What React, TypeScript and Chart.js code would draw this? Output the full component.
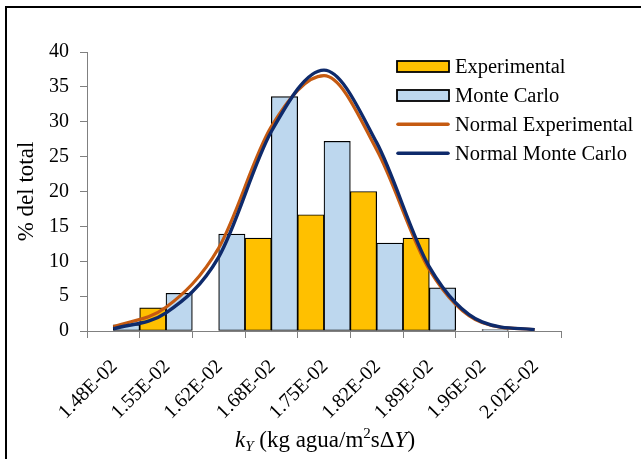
import React, { useEffect, useRef } from 'react';
import { Chart, registerables } from 'chart.js';

Chart.register(...registerables);

const categories = ['1.48E-02', '1.55E-02', '1.62E-02', '1.68E-02', '1.75E-02', '1.82E-02', '1.89E-02', '1.96E-02', '2.02E-02'];
const experimental = [0, 3.33, 0, 13.33, 16.67, 20.0, 13.33, 0, 0];
const monteCarlo = [0.9, 5.4, 13.9, 33.6, 27.2, 12.6, 6.2, 0.2, 0];
const normalExperimental = [0.6, 3.4, 11.9, 29.3, 36.6, 26.0, 8.8, 1.2, 0.2];
const normalMonteCarlo = [0.3, 2.6, 10.6, 28.6, 37.4, 27.0, 9.2, 1.3, 0.2];
const yMin = 0;
const yMax = 40;
const yStep = 5;
const legendLabels = ['Experimental', 'Monte Carlo', 'Normal Experimental', 'Normal Monte Carlo'];
const yTitle = '% del total';

const FONT = '"Liberation Serif", "Times New Roman", serif';
const C_EXP = '#FFC000';
const C_MC = '#BDD7EE';
const C_NEXP = '#C55A11';
const C_NMC = '#0E2A6B';
const AXIS = '#808080';

const decorPlugin = {
  id: 'decor',
  afterDraw(chart: any) {
    const ctx = chart.ctx as CanvasRenderingContext2D;
    const area = chart.chartArea;
    ctx.save();
    // outer frame
    ctx.strokeStyle = '#000';
    ctx.lineWidth = 2;
    ctx.strokeRect(6, 7, 800, 600);

    // legend
    const lx0 = 397, lx1 = 449, tx = 455;
    const rows = [66.5, 95.5, 124.3, 153.3];
    ctx.font = `20.5px ${FONT}`;
    ctx.textBaseline = 'alphabetic';
    ctx.textAlign = 'left';
    rows.forEach((cy, i) => {
      if (i < 2) {
        ctx.fillStyle = i === 0 ? C_EXP : C_MC;
        ctx.fillRect(lx0, cy - 5.5, lx1 - lx0, 11);
        ctx.strokeStyle = '#000';
        ctx.lineWidth = 1.8;
        ctx.strokeRect(lx0, cy - 5.5, lx1 - lx0, 11);
      } else {
        ctx.strokeStyle = i === 2 ? C_NEXP : C_NMC;
        ctx.lineWidth = 3.5;
        ctx.lineCap = 'round';
        ctx.beginPath();
        ctx.moveTo(lx0 + 1, cy);
        ctx.lineTo(lx1 - 1, cy);
        ctx.stroke();
      }
      ctx.fillStyle = '#000';
      ctx.fillText(legendLabels[i], tx, cy + 6.3);
    });

    // y title
    ctx.save();
    ctx.translate(33, (area.top + area.bottom) / 2);
    ctx.rotate(-Math.PI / 2);
    ctx.font = `23px ${FONT}`;
    ctx.textAlign = 'center';
    ctx.textBaseline = 'alphabetic';
    ctx.fillStyle = '#000';
    ctx.fillText(yTitle, 0, 0);
    ctx.restore();

    // x title with sub/superscripts
    const parts: [string, string, number][] = [
      ['k', `italic 23px ${FONT}`, 0],
      ['Y', `italic 15px ${FONT}`, 4],
      [' (kg agua/m', `23px ${FONT}`, 0],
      ['2', `15px ${FONT}`, -8.5],
      ['s\u0394', `23px ${FONT}`, 0],
      ['Y', `italic 23px ${FONT}`, 0],
      [')', `23px ${FONT}`, 0],
    ];
    let total = 0;
    const widths = parts.map(([t, f]) => {
      ctx.font = f;
      const w = ctx.measureText(t).width;
      total += w;
      return w;
    });
    let x = (area.left + area.right) / 2 - total / 2 + 1;
    const base = 446.5;
    ctx.textAlign = 'left';
    ctx.fillStyle = '#000';
    parts.forEach(([t, f, dy], i) => {
      ctx.font = f;
      ctx.fillText(t, x, base + dy);
      x += widths[i];
    });
    ctx.restore();
  },
};

export default function App() {
  const ref = useRef<HTMLCanvasElement | null>(null);
  useEffect(() => {
    if (!ref.current) return;
    const lineCommon = {
      type: 'line',
      pointRadius: 0,
      fill: false,
      cubicInterpolationMode: 'monotone',
    };
    const chart = new Chart(ref.current, {
      type: 'bar',
      data: {
        labels: categories,
        datasets: [
          {
            type: 'bar',
            label: legendLabels[0],
            data: experimental,
            backgroundColor: C_EXP,
            borderColor: '#000',
            borderWidth: 1.2,
            borderSkipped: false,
            categoryPercentage: 1,
            barPercentage: 1,
            order: 3,
          },
          {
            type: 'bar',
            label: legendLabels[1],
            data: monteCarlo,
            backgroundColor: C_MC,
            borderColor: '#000',
            borderWidth: 1.2,
            borderSkipped: false,
            categoryPercentage: 1,
            barPercentage: 1,
            order: 3,
          },
          {
            ...lineCommon,
            label: legendLabels[2],
            data: normalExperimental,
            borderColor: C_NEXP,
            borderWidth: 3.2,
            order: 1,
          },
          {
            ...lineCommon,
            label: legendLabels[3],
            data: normalMonteCarlo,
            borderColor: C_NMC,
            borderWidth: 3.4,
            order: 0,
          },
        ] as any,
      },
      options: {
        animation: false,
        responsive: false,
        devicePixelRatio: 1,
        layout: { padding: { left: 0, top: 52, right: 80, bottom: 0 } },
        plugins: {
          legend: { display: false },
          tooltip: { enabled: false },
          title: { display: false },
        },
        scales: {
          x: {
            type: 'category',
            offset: true,
            grid: {
              offset: true,
              drawOnChartArea: false,
              drawTicks: true,
              tickLength: 7,
              color: AXIS,
            },
            border: { color: AXIS, width: 1 },
            ticks: {
              color: '#000',
              font: { family: FONT, size: 20 },
              maxRotation: 45,
              minRotation: 45,
              autoSkip: false,
              padding: 17,
              labelOffset: 1,
            },
            afterFit: (s: any) => {
              s.height = 128;
            },
          },
          y: {
            min: yMin,
            max: yMax,
            grid: {
              drawOnChartArea: false,
              drawTicks: true,
              tickLength: 7,
              color: AXIS,
            },
            border: { color: AXIS, width: 1 },
            ticks: {
              stepSize: yStep,
              color: '#000',
              font: { family: FONT, size: 20 },
              padding: 11,
            },
            afterFit: (s: any) => {
              s.width = 87;
            },
          },
        },
      } as any,
      plugins: [decorPlugin],
    });
    return () => chart.destroy();
  }, []);
  return (
    <div style={{ position: 'absolute', left: 0, top: 0, width: 641, height: 459, background: '#fff' }}>
      <canvas ref={ref} width={641} height={459} style={{ display: 'block', width: 641, height: 459 }} />
    </div>
  );
}
